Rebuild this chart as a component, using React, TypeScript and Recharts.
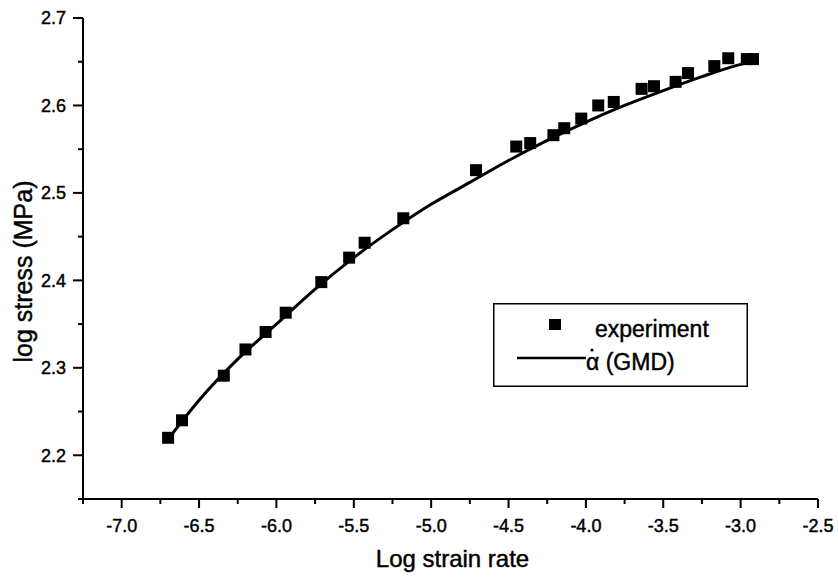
import {
  ComposedChart,
  Label,
  Legend,
  Line,
  Scatter,
  XAxis,
  YAxis,
} from "recharts";

// experiment points (log strain rate, log stress)
const expX = [
  -6.7, -6.61, -6.34, -6.2, -6.07, -5.94, -5.71, -5.53, -5.43, -5.18, -4.71,
  -4.45, -4.36, -4.21, -4.14, -4.03, -3.92, -3.82, -3.64, -3.56, -3.42, -3.34,
  -3.17, -3.08, -2.96, -2.92,
];
const expY = [
  2.22, 2.24, 2.291, 2.321, 2.341, 2.363, 2.398, 2.426, 2.443, 2.471, 2.526,
  2.553, 2.557, 2.566, 2.574, 2.585, 2.6, 2.604, 2.619, 2.622, 2.627, 2.637,
  2.645, 2.654, 2.653, 2.653,
];

// GMD curve
const fitX = [
  -6.68, -6.5, -6.25, -6.0, -5.75, -5.5, -5.25, -5.0, -4.75, -4.5, -4.25,
  -4.0, -3.75, -3.5, -3.25, -3.0, -2.93,
];
const fitY = [
  2.223, 2.263, 2.31, 2.35, 2.39, 2.426, 2.458, 2.487, 2.512, 2.537, 2.56,
  2.581, 2.6, 2.617, 2.633, 2.647, 2.65,
];

const xTicks = [
  -7.25, -7.0, -6.75, -6.5, -6.25, -6.0, -5.75, -5.5, -5.25, -5.0, -4.75, -4.5,
  -4.25, -4.0, -3.75, -3.5, -3.25, -3.0, -2.75, -2.5,
];
const yTicks = [
  2.15, 2.2, 2.25, 2.3, 2.35, 2.4, 2.45, 2.5, 2.55, 2.6, 2.65, 2.7,
];

const experiment = expX.map((x, i) => ({ x, y: expY[i] }));
const fit = fitX.map((x, i) => ({ x, y: fitY[i] }));

const FONT = '"Liberation Sans", Arial, Helvetica, sans-serif';
const TICK_MARGIN = 10;
// scanned text looks a bit heavier than plain regular
const textInk = { fill: "#000", stroke: "#000", strokeWidth: 0.45 };

// major tick when v*steps is a whole number
const isMajor = (v: number, steps: number) =>
  Math.abs(v * steps - Math.round(v * steps)) < 1e-6;

const XTick = ({ x, y, payload }: any) => {
  const major = isMajor(payload.value, 2);
  const axisY = y - TICK_MARGIN;
  return (
    <g>
      <line
        x1={x}
        x2={x}
        y1={axisY}
        y2={axisY + (major ? 9 : 5)}
        stroke="#000"
        strokeWidth={2}
      />
      {major && (
        <text
          x={x}
          y={axisY + 33}
          textAnchor="middle"
          fontSize={18}
          fontFamily={FONT}
          {...textInk}
        >
          {payload.value.toFixed(1)}
        </text>
      )}
    </g>
  );
};

const YTick = ({ x, y, payload }: any) => {
  const major = isMajor(payload.value, 10);
  const axisX = x + TICK_MARGIN;
  return (
    <g>
      <line
        x1={axisX}
        x2={axisX - (major ? 10 : 5)}
        y1={y}
        y2={y}
        stroke="#000"
        strokeWidth={2}
      />
      {major && (
        <text
          x={axisX - 17}
          y={y}
          dy="0.35em"
          textAnchor="end"
          fontSize={18}
          fontFamily={FONT}
          {...textInk}
        >
          {payload.value.toFixed(1)}
        </text>
      )}
    </g>
  );
};

const XTitle = ({ viewBox }: any) => (
  <text
    x={viewBox.x + viewBox.width / 2 + 2}
    y={viewBox.y + 68}
    textAnchor="middle"
    fontSize={24}
    fontFamily={FONT}
    {...textInk}
  >
    Log strain rate
  </text>
);

const YTitle = ({ viewBox }: any) => {
  const cx = 32;
  const cy = viewBox.y + viewBox.height / 2 + 13;
  return (
    <text
      x={cx}
      y={cy}
      transform={`rotate(-90 ${cx} ${cy})`}
      textAnchor="middle"
      fontSize={25}
      fontFamily={FONT}
      {...textInk}
    >
      log stress (MPa)
    </text>
  );
};

const SquareDot = (props: any) => {
  const { cx, cy } = props;
  if (cx == null || cy == null) return null;
  return <rect x={cx - 6} y={cy - 6} width={12} height={12} fill="#000" />;
};

const LegendBox = () => (
  <svg width={255} height={84} style={{ display: "block" }}>
    <rect
      x={0.75}
      y={0.75}
      width={253.5}
      height={82.5}
      fill="#fff"
      stroke="#000"
      strokeWidth={1.5}
    />
    <rect x={56} y={16} width={12} height={11} fill="#000" />
    <text x={102} y={34} fontSize={23} fontFamily={FONT} {...textInk}>
      experiment
    </text>
    <line x1={24} x2={93} y1={55} y2={55} stroke="#000" strokeWidth={2.5} />
    <text x={93} y={67} fontSize={23} fontFamily={FONT} {...textInk}>
      {"\u03B1 (GMD)"}
    </text>
    <circle cx={99} cy={47} r={1.6} fill="#000" />
  </svg>
);

export default function App() {
  return (
    <div
      style={{
        position: "absolute",
        left: 0,
        top: 0,
        width: 838,
        height: 579,
        background: "#fff",
      }}
    >
      <ComposedChart
        width={838}
        height={579}
        margin={{ top: 18, right: 20, left: 0, bottom: 0 }}
      >
        <XAxis
          type="number"
          dataKey="x"
          domain={[-7.25, -2.5]}
          allowDataOverflow
          ticks={xTicks}
          interval={0}
          height={80}
          tickSize={0}
          tickMargin={TICK_MARGIN}
          tickLine={false}
          axisLine={{ stroke: "#000", strokeWidth: 2 }}
          tick={<XTick />}
        >
          <Label content={<XTitle />} />
        </XAxis>
        <YAxis
          type="number"
          dataKey="y"
          domain={[2.15, 2.7]}
          allowDataOverflow
          ticks={yTicks}
          interval={0}
          width={83}
          tickSize={0}
          tickMargin={TICK_MARGIN}
          tickLine={false}
          axisLine={{ stroke: "#000", strokeWidth: 2 }}
          tick={<YTick />}
        >
          <Label content={<YTitle />} />
        </YAxis>
        <Legend
          verticalAlign="middle"
          align="center"
          content={<LegendBox />}
          wrapperStyle={{ left: 493, top: 303, width: 255, height: 84 }}
        />
        <Line
          data={fit}
          dataKey="y"
          type="monotone"
          stroke="#000"
          strokeWidth={3}
          dot={false}
          activeDot={false}
          isAnimationActive={false}
          legendType="none"
        />
        <Scatter
          data={experiment}
          dataKey="y"
          fill="#000"
          shape={<SquareDot />}
          isAnimationActive={false}
        />
      </ComposedChart>
    </div>
  );
}
